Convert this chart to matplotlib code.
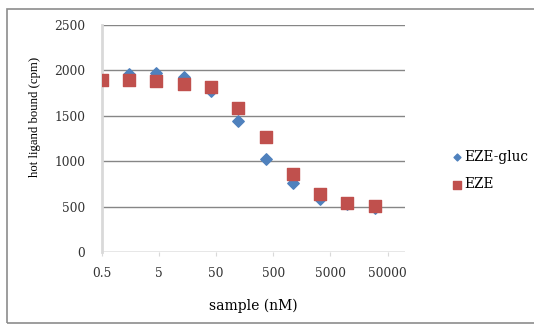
import matplotlib.pyplot as plt
from matplotlib.patches import Rectangle

# 3-fold dilution series (nM)
conc = [0.5, 1.5, 4.5, 13.5, 40.5, 121.5, 364.5, 1093.5, 3280.5, 9841.5, 29524.5]
eze_gluc = [1890, 1955, 1975, 1930, 1770, 1445, 1025, 765, 580, 530, 480]
eze = [1895, 1895, 1885, 1845, 1820, 1580, 1270, 860, 640, 540, 505]

xticks = [0.5, 5, 50, 500, 5000, 50000]
xticklabels = ['0.5', '5', '50', '500', '5000', '50000']
yticks = [0, 500, 1000, 1500, 2000, 2500]

plt.rcParams['font.family'] = ['DejaVu Serif']

fig = plt.figure(figsize=(5.34, 3.27), dpi=100)
ax = fig.add_axes([0.191, 0.229, 0.567, 0.695])

# chart area border
fig.patches.append(Rectangle((7 / 534, 4 / 327), 1.2, 314 / 327, transform=fig.transFigure,
                             fill=False, edgecolor='#8c8c8c', linewidth=1.2))

ax.scatter(conc, eze_gluc, marker='D', s=34, color='#4F81BD', zorder=3, label='EZE-gluc')
ax.scatter(conc, eze, marker='s', s=80, color='#C0504D', zorder=4, label='EZE')

ax.set_xscale('log')
ax.set_xlim(0.5, 100000)
ax.set_ylim(0, 2500)
ax.set_xticks(xticks)
ax.set_xticklabels(xticklabels)
ax.minorticks_off()
ax.set_yticks(yticks)

ax.yaxis.grid(True, color='#868686', linewidth=1)
ax.set_axisbelow(True)
for s in ['top', 'right', 'bottom']:
    ax.spines[s].set_visible(False)
ax.spines['left'].set_color('#d9d9d9')
ax.spines['left'].set_linewidth(2)
ax.tick_params(axis='y', length=0, pad=12, labelsize=8.8, labelcolor='#333333')
ax.tick_params(axis='x', length=3, color='#d9d9d9', pad=8, labelsize=8.8, labelcolor='#333333')

ax.set_xlabel('sample (nM)', fontsize=10, labelpad=13)
ax.set_ylabel('hot ligand bound (cpm)', fontsize=9.2, family='Liberation Serif')
ax.yaxis.set_label_coords(41 / 534, 1 - 117 / 327, transform=fig.transFigure)

ax.legend(loc='upper left', bbox_to_anchor=(0.851, 0.542), bbox_transform=fig.transFigure,
          frameon=False, fontsize=9.8, handlelength=0.4, handletextpad=0.3, markerscale=0.6,
          labelspacing=1.0, borderaxespad=0, borderpad=0)

plt.savefig('out.png', dpi=100)
